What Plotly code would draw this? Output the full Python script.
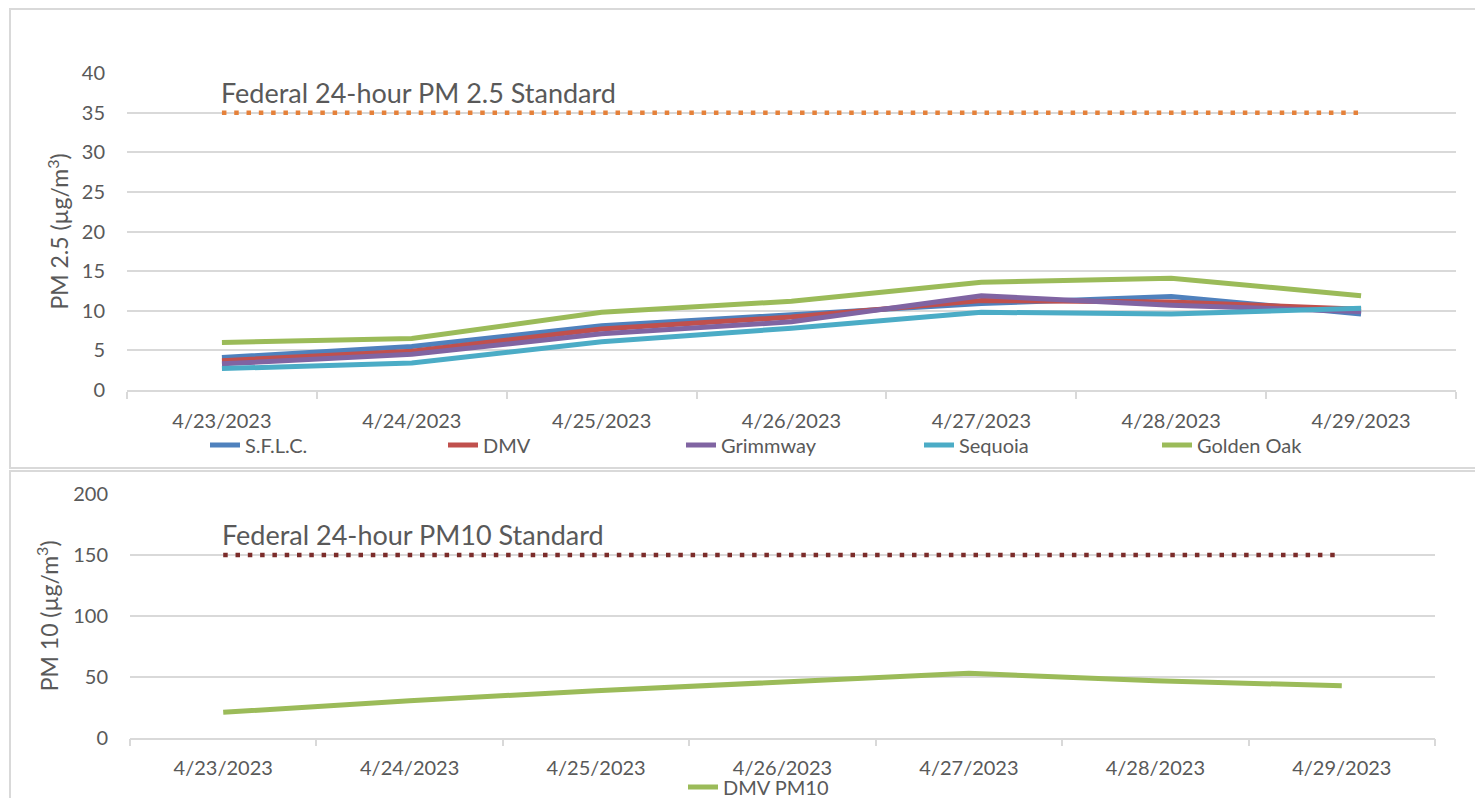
import plotly.graph_objects as go

# page offset from the browser's default body margin
OFF = 8
W, H = 1483 - OFF, 798 - OFF

dates = ["4/23/2023", "4/24/2023", "4/25/2023", "4/26/2023", "4/27/2023", "4/28/2023", "4/29/2023"]

sflc = [4.1, 5.5, 8.1, 9.5, 10.9, 11.8, 9.6]
dmv = [3.7, 4.9, 7.7, 9.2, 11.3, 11.1, 10.2]
grimmway = [3.3, 4.5, 7.1, 8.6, 11.9, 10.7, 9.9]
sequoia = [2.7, 3.4, 6.1, 7.8, 9.8, 9.6, 10.3]
golden_oak = [6.0, 6.5, 9.8, 11.2, 13.6, 14.1, 11.9]
pm25_standard = [35, 35, 35, 35, 35, 35, 35]

dmv_pm10 = [20.8, 30.4, 38.6, 45.4, 52.8, 46.7, 42.6]
pm10_standard = [150, 150, 150, 150, 150, 150, 150]

pm25_ticks = [0, 5, 10, 15, 20, 25, 30, 35, 40]
pm10_ticks = [0, 50, 100, 150, 200]

FONT = "Lato"
TXT = "#595959"
GRID = "#d9d9d9"


def px(x):
    return (x - OFF) / W


def py(y):
    return 1 - (y - OFF) / H


fig = go.Figure()

fig.add_trace(go.Scatter(x=dates, y=pm25_standard, mode="lines", showlegend=False,
                         line=dict(color="#E5813A", width=4.5, dash="4.5px,7.8px"),
                         xaxis="x", yaxis="y", hoverinfo="skip"))

top_series = [
    ("S.F.L.C.", sflc, "#4F81BD"),
    ("DMV", dmv, "#C0504D"),
    ("Grimmway", grimmway, "#8064A2"),
    ("Sequoia", sequoia, "#4BACC6"),
    ("Golden Oak", golden_oak, "#9BBB59"),
]
for name, vals, col in top_series:
    fig.add_trace(go.Scatter(x=dates, y=vals, mode="lines", name=name,
                             line=dict(color=col, width=5), xaxis="x", yaxis="y",
                             legend="legend"))

fig.add_trace(go.Scatter(x=dates, y=pm10_standard, mode="lines", showlegend=False,
                         line=dict(color="#7B2C2A", width=4.5, dash="4.5px,7.8px"),
                         xaxis="x2", yaxis="y2", hoverinfo="skip"))
fig.add_trace(go.Scatter(x=dates, y=dmv_pm10, mode="lines", name="DMV PM10",
                         line=dict(color="#9BBB59", width=5), xaxis="x2", yaxis="y2",
                         legend="legend2"))

xcommon = dict(type="category", range=[-0.5, 6.5], showline=True, linecolor=GRID, linewidth=1.5,
               ticks="outside", ticklen=7, tickcolor=GRID, tickwidth=1.5, tickson="boundaries",
               showgrid=False, zeroline=False, ticklabelstandoff=12, automargin=False,
               tickfont=dict(family=FONT, size=20, color=TXT), fixedrange=True)

ycommon = dict(showgrid=True, gridcolor=GRID, gridwidth=1.5, zeroline=False, showline=False,
               ticks="", ticklabelstandoff=21, automargin=False, fixedrange=True,
               tickfont=dict(family=FONT, size=20, color=TXT))

fig.update_layout(
    template="none",
    width=W, height=H,
    margin=dict(l=0, r=0, t=0, b=0, pad=0, autoexpand=False),
    paper_bgcolor="white", plot_bgcolor="white",
    font=dict(family=FONT, color=TXT),
    xaxis=dict(domain=[px(127), px(1456)], anchor="y", **xcommon),
    yaxis=dict(domain=[py(390), py(73)], anchor="x", range=[0, 40], tickvals=pm25_ticks,
               title=dict(text="PM 2.5 (µg/m<sup>3</sup>)", standoff=6,
                          font=dict(family=FONT, size=23, color=TXT)),
               **ycommon),
    xaxis2=dict(domain=[px(130), px(1435)], anchor="y2", **xcommon),
    yaxis2=dict(domain=[py(737.7), py(494)], anchor="x2", range=[0, 200], tickvals=pm10_ticks,
                title=dict(text="PM 10 (µg/m<sup>3</sup>)", standoff=8,
                           font=dict(family=FONT, size=23, color=TXT)),
                **ycommon),
    legend=dict(orientation="h", x=px(205), y=py(445), xanchor="left", yanchor="middle",
                entrywidth=193, entrywidthmode="pixels", itemwidth=30, borderwidth=0,
                font=dict(family=FONT, size=20, color=TXT), bgcolor="rgba(0,0,0,0)",
                tracegroupgap=0),
    legend2=dict(orientation="h", x=px(683), y=py(787), xanchor="left", yanchor="middle",
                 itemwidth=30, borderwidth=0, font=dict(family=FONT, size=20, color=TXT),
                 bgcolor="rgba(0,0,0,0)"),
    showlegend=True,
    shapes=[
        dict(type="rect", xref="paper", yref="paper", x0=px(10), x1=px(1478), y0=py(468), y1=py(9),
             line=dict(color=GRID, width=2), layer="below"),
        dict(type="rect", xref="paper", yref="paper", x0=px(10), x1=px(1478), y0=py(805), y1=py(471),
             line=dict(color=GRID, width=2), layer="below"),
    ],
    annotations=[
        dict(text="Federal 24-hour PM 2.5 Standard", x=0, y=35, xref="x", yref="y",
             xanchor="left", yanchor="bottom", xshift=-3, yshift=2, showarrow=False,
             font=dict(family=FONT, size=27, color=TXT)),
        dict(text="Federal 24-hour PM10 Standard", x=0, y=150, xref="x2", yref="y2",
             xanchor="left", yanchor="bottom", xshift=-3, yshift=2, showarrow=False,
             font=dict(family=FONT, size=27, color=TXT)),
    ],
)

fig.write_html("out.html")
